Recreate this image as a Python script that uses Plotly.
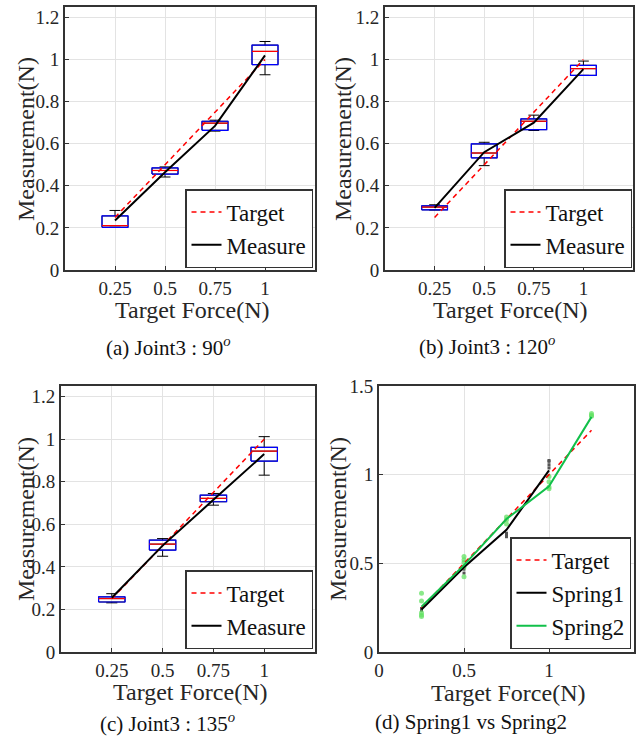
import plotly.graph_objects as go

# ---------------- data ----------------
forces = [0.25, 0.5, 0.75, 1.0]
force_ticktext = ["0.25", "0.5", "0.75", "1"]
target_vals = [0.25, 0.5, 0.75, 1.0]

# (a) Joint3 : 90
a_q1 = [0.203, 0.456, 0.664, 0.976]
a_med = [0.211, 0.473, 0.698, 1.039]
a_q3 = [0.257, 0.485, 0.707, 1.069]
a_lo = [0.203, 0.442, 0.660, 0.928]
a_hi = [0.283, 0.490, 0.712, 1.086]
a_meas = [0.235, 0.465, 0.685, 1.020]

# (b) Joint3 : 120
b_q1 = [0.286, 0.533, 0.667, 0.925]
b_med = [0.299, 0.556, 0.707, 0.957]
b_q3 = [0.305, 0.599, 0.718, 0.973]
b_lo = [0.285, 0.496, 0.663, 0.925]
b_hi = [0.310, 0.607, 0.736, 0.993]
b_meas = [0.295, 0.560, 0.700, 0.955]

# (c) Joint3 : 135
c_q1 = [0.235, 0.479, 0.706, 0.897]
c_med = [0.251, 0.507, 0.722, 0.944]
c_q3 = [0.259, 0.526, 0.737, 0.962]
c_lo = [0.231, 0.450, 0.690, 0.831]
c_hi = [0.274, 0.533, 0.745, 1.012]
c_meas = [0.255, 0.500, 0.715, 0.930]

# (d) Spring1 vs Spring2
d_target_x = [0.25, 0.5, 0.75, 1.0, 1.25]
d_target_y = [0.25, 0.5, 0.75, 1.0, 1.25]
d_s1_x = [0.25, 0.5, 0.75, 1.0]
d_s1_y = [0.240, 0.478, 0.689, 1.024]
d_s2_x = [0.25, 0.5, 0.75, 1.0, 1.25]
d_s2_y = [0.256, 0.490, 0.750, 0.934, 1.326]
d_s1_pts_x = [0.25, 0.25, 0.5, 0.5, 0.5, 0.75, 0.75, 0.75, 1.0, 1.0, 1.0, 1.0]
d_s1_pts_y = [0.235, 0.245, 0.467, 0.445, 0.480, 0.670, 0.660, 0.650, 1.080, 1.075, 1.056, 1.038]
d_s2_pts_x = [0.25, 0.25, 0.25, 0.25, 0.25, 0.5, 0.5, 0.5, 0.5, 0.5,
              0.75, 0.75, 0.75, 1.0, 1.0, 1.0, 1.0, 1.25, 1.25, 1.25]
d_s2_pts_y = [0.332, 0.288, 0.222, 0.209, 0.200, 0.538, 0.520, 0.505, 0.479, 0.425,
              0.761, 0.746, 0.722, 0.990, 0.960, 0.930, 0.920, 1.345, 1.335, 1.330]

captions = ["(a) Joint3 : 90<sup><i>o</i></sup>", "(b) Joint3 : 120<sup><i>o</i></sup>",
            "(c) Joint3 : 135<sup><i>o</i></sup>", "(d) Spring1 vs Spring2"]

# ---------------- style ----------------
W, H = 636, 743
FONT = "Liberation Serif, Times New Roman, serif"
TXT = "#262626"
FRAME = "#333333"
GRID = "#e3e3e3"
BOX_W = 0.13
RED = "#ff0000"
GREEN = "#11c04a"

fig = go.Figure()

def px_x(p):
    return p / W

def px_y(p):
    return 1 - p / H

# panel pixel boxes: (left, right, top, bottom)
panels = [(65, 315, 7, 270), (385, 633, 7, 270), (61, 315, 386, 652), (379, 634, 386, 652)]

box_sets = [
    (a_q1, a_med, a_q3, a_lo, a_hi, a_meas),
    (b_q1, b_med, b_q3, b_lo, b_hi, b_meas),
    (c_q1, c_med, c_q3, c_lo, c_hi, c_meas),
]

for i, (q1, med, q3, lo, hi, meas) in enumerate(box_sets):
    n = i + 1
    xa = "x" if n == 1 else f"x{n}"
    ya = "y" if n == 1 else f"y{n}"
    lg = "legend" if n == 1 else f"legend{n}"
    fig.add_trace(go.Box(x=forces, q1=q1, median=med, q3=q3, lowerfence=lo, upperfence=hi,
                         width=BOX_W, whiskerwidth=0.42, line=dict(color="black", width=1),
                         fillcolor="rgba(0,0,0,0)", showlegend=False, hoverinfo="skip",
                         xaxis=xa, yaxis=ya))
    # blue box outline and red median on top
    bx, by, mx, my = [], [], [], []
    for f, a, m, b in zip(forces, q1, med, q3):
        l, r = f - BOX_W / 2, f + BOX_W / 2
        bx += [l, r, r, l, l, None]
        by += [a, a, b, b, a, None]
        mx += [l, r, None]
        my += [m, m, None]
    fig.add_trace(go.Scatter(x=bx, y=by, mode="lines", line=dict(color="#0000ff", width=1.2),
                             showlegend=False, hoverinfo="skip", xaxis=xa, yaxis=ya))
    fig.add_trace(go.Scatter(x=mx, y=my, mode="lines", line=dict(color=RED, width=1.2),
                             showlegend=False, hoverinfo="skip", xaxis=xa, yaxis=ya))
    fig.add_trace(go.Scatter(x=forces, y=target_vals, mode="lines", name="Target",
                             line=dict(color=RED, width=1.5, dash="5px,4px"),
                             legend=lg, xaxis=xa, yaxis=ya))
    fig.add_trace(go.Scatter(x=forces, y=meas, mode="lines", name="Measure",
                             line=dict(color="black", width=2),
                             legend=lg, xaxis=xa, yaxis=ya))

# panel (d)
fig.add_trace(go.Scatter(x=d_s1_pts_x, y=d_s1_pts_y, mode="markers", showlegend=False,
                         marker=dict(color="#555555", size=3, symbol="square"),
                         hoverinfo="skip", xaxis="x4", yaxis="y4"))
fig.add_trace(go.Scatter(x=d_s2_pts_x, y=d_s2_pts_y, mode="markers", showlegend=False,
                         marker=dict(color="rgba(100,225,100,0.75)", size=5),
                         hoverinfo="skip", xaxis="x4", yaxis="y4"))
fig.add_trace(go.Scatter(x=d_target_x, y=d_target_y, mode="lines", name="Target",
                         line=dict(color=RED, width=1.5, dash="5px,4px"),
                         legend="legend4", xaxis="x4", yaxis="y4"))
fig.add_trace(go.Scatter(x=d_s1_x, y=d_s1_y, mode="lines", name="Spring1",
                         line=dict(color="black", width=2),
                         legend="legend4", xaxis="x4", yaxis="y4"))
fig.add_trace(go.Scatter(x=d_s2_x, y=d_s2_y, mode="lines", name="Spring2",
                         line=dict(color=GREEN, width=2),
                         legend="legend4", xaxis="x4", yaxis="y4"))

layout = dict(width=W, height=H, margin=dict(l=0, r=0, t=0, b=0, autoexpand=False),
              paper_bgcolor="white", plot_bgcolor="white",
              font=dict(family=FONT, color=TXT, size=19))

for i, (l, r, t, b) in enumerate(panels):
    n = i + 1
    xk = "xaxis" if n == 1 else f"xaxis{n}"
    yk = "yaxis" if n == 1 else f"yaxis{n}"
    common = dict(showline=True, mirror=True, linecolor=FRAME, linewidth=2,
                  showgrid=True, gridcolor=GRID, gridwidth=1, zeroline=False,
                  ticks="inside", ticklen=4, tickcolor=FRAME, automargin=False,
                  tickfont=dict(family=FONT, size=19, color=TXT), fixedrange=True)
    if n < 4:
        xax = dict(domain=[px_x(l), px_x(r)], range=[0, 1.25], tickvals=forces,
                   ticktext=force_ticktext, anchor=f"y{n}" if n > 1 else "y", **common)
        yax = dict(domain=[px_y(b), px_y(t)], range=[0, 1.25], tickvals=[0, 0.2, 0.4, 0.6, 0.8, 1.0, 1.2],
                   ticktext=["0", "0.2", "0.4", "0.6", "0.8", "1", "1.2"],
                   anchor=f"x{n}" if n > 1 else "x", **common)
    else:
        xax = dict(domain=[px_x(l), px_x(r)], range=[0, 1.5], tickvals=[0, 0.5, 1.0, 1.5],
                   ticktext=["0", "0.5", "1", "1.5"], anchor="y4", **common)
        yax = dict(domain=[px_y(b), px_y(t)], range=[0, 1.5], tickvals=[0, 0.5, 1.0, 1.5],
                   ticktext=["0", "0.5", "1", "1.5"], anchor="x4", **common)
    layout[xk] = xax
    layout[yk] = yax

legend_pos = [(313, 268), (632, 268), (313, 649), (631, 649)]
for i, (rx, by) in enumerate(legend_pos):
    n = i + 1
    key = "legend" if n == 1 else f"legend{n}"
    layout[key] = dict(x=px_x(rx), y=px_y(by), xanchor="right", yanchor="bottom",
                       bgcolor="white", bordercolor=FRAME, borderwidth=1.5,
                       font=dict(family=FONT, size=23, color="#111111"),
                       tracegroupgap=0, itemwidth=30)

fig.update_layout(**layout)

# axis titles and captions
ytitle_pos = [(26, 139), (343, 139), (26, 519), (338, 519)]
xtitle_pos = [(192, 310), (510, 310), (190, 692), (508, 693)]
caption_pos = [(168, 347), (487, 345), (167, 722), (471, 722)]
for i in range(4):
    fig.add_annotation(text="Measurement(N)", x=px_x(ytitle_pos[i][0]), y=px_y(ytitle_pos[i][1]),
                       xref="paper", yref="paper", showarrow=False, textangle=-90,
                       font=dict(family=FONT, size=24, color=TXT), xanchor="center", yanchor="middle")
    fig.add_annotation(text="Target Force(N)", x=px_x(xtitle_pos[i][0]), y=px_y(xtitle_pos[i][1]),
                       xref="paper", yref="paper", showarrow=False,
                       font=dict(family=FONT, size=24, color=TXT), xanchor="center", yanchor="middle")
    fig.add_annotation(text=captions[i], x=px_x(caption_pos[i][0]), y=px_y(caption_pos[i][1]),
                       xref="paper", yref="paper", showarrow=False,
                       font=dict(family=FONT, size=21, color="#111111"), xanchor="center", yanchor="middle")

fig.write_html("out.html", config={"displayModeBar": False},
               post_script="document.body.style.margin='0';document.body.style.overflow='hidden';")
